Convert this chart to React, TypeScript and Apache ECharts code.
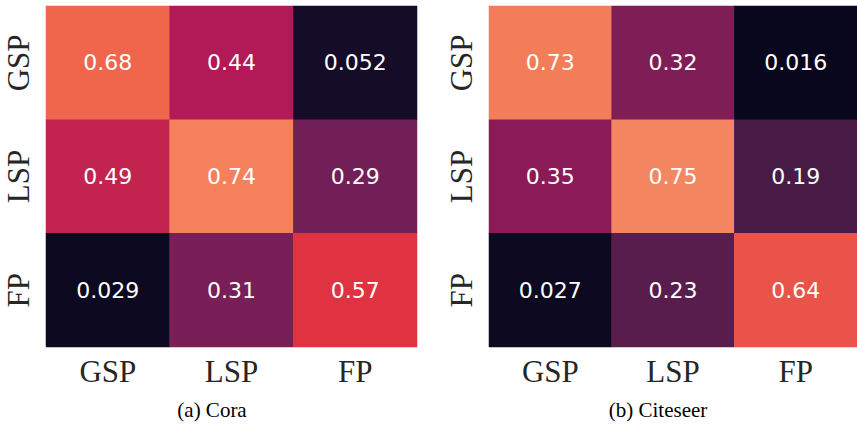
import React, { useEffect, useRef } from "react";
import * as echarts from "echarts";

const categories = ["GSP", "LSP", "FP"];
const coraValues = [
  [0.68, 0.44, 0.052],
  [0.49, 0.74, 0.29],
  [0.029, 0.31, 0.57],
];
const citeseerValues = [
  [0.73, 0.32, 0.016],
  [0.35, 0.75, 0.19],
  [0.027, 0.23, 0.64],
];
const captions = ["(a) Cora", "(b) Citeseer"];
const captionCenters = [212, 658];
const rocket = ["#03051A", "#35193e", "#701f57", "#ad1759", "#e13342", "#f37651", "#f6b48f", "#FAEBDD"];

function toData(m: number[][]) {
  const out: [number, number, number][] = [];
  m.forEach((row, r) => row.forEach((v, c) => out.push([c, r, v])));
  return out;
}

export default function App() {
  const ref = useRef<HTMLDivElement>(null);
  useEffect(() => {
    document.body.style.margin = "0";
    const chart = echarts.init(ref.current!, null, { renderer: "svg" });
    const grids = [
      { left: 46, top: 6, width: 371, height: 341 },
      { left: 489, top: 6, width: 368, height: 341 },
    ];
    const axisLabelStyle = {
      fontFamily: "Liberation Serif",
      fontSize: 31,
      color: "#262626",
    };
    const option: any = {
      animation: false,
      grid: grids,
      xAxis: grids.map((_, i) => ({
        type: "category",
        gridIndex: i,
        data: categories,
        axisLine: { show: false },
        axisTick: { show: false },
        splitLine: { show: false },
        axisLabel: { ...axisLabelStyle, margin: 9 },
      })),
      yAxis: grids.map((_, i) => ({
        type: "category",
        gridIndex: i,
        data: categories,
        inverse: true,
        axisLine: { show: false },
        axisTick: { show: false },
        splitLine: { show: false },
        axisLabel: { ...axisLabelStyle, rotate: 90, margin: 12 },
      })),
      visualMap: {
        show: false,
        min: 0,
        max: 1,
        dimension: 2,
        inRange: { color: rocket },
      },
      series: [coraValues, citeseerValues].map((m, i) => ({
        type: "heatmap",
        xAxisIndex: i,
        yAxisIndex: i,
        data: toData(m),
        label: {
          show: true,
          color: "#ffffff",
          fontFamily: "DejaVu Sans",
          fontSize: 22,
          formatter: (p: any) => String(p.value[2]),
        },
        itemStyle: { borderWidth: 0 },
        emphasis: { disabled: true },
      })),
      graphic: captions.map((t, i) => ({
        type: "text",
        x: captionCenters[i],
        y: 410,
        style: {
          text: t,
          fontFamily: "Liberation Serif",
          fontSize: 21,
          fill: "#000000",
          align: "center",
          verticalAlign: "middle",
        },
      })),
    };
    chart.setOption(option);
    return () => chart.dispose();
  }, []);
  return <div ref={ref} style={{ width: 857, height: 425 }} />;
}
